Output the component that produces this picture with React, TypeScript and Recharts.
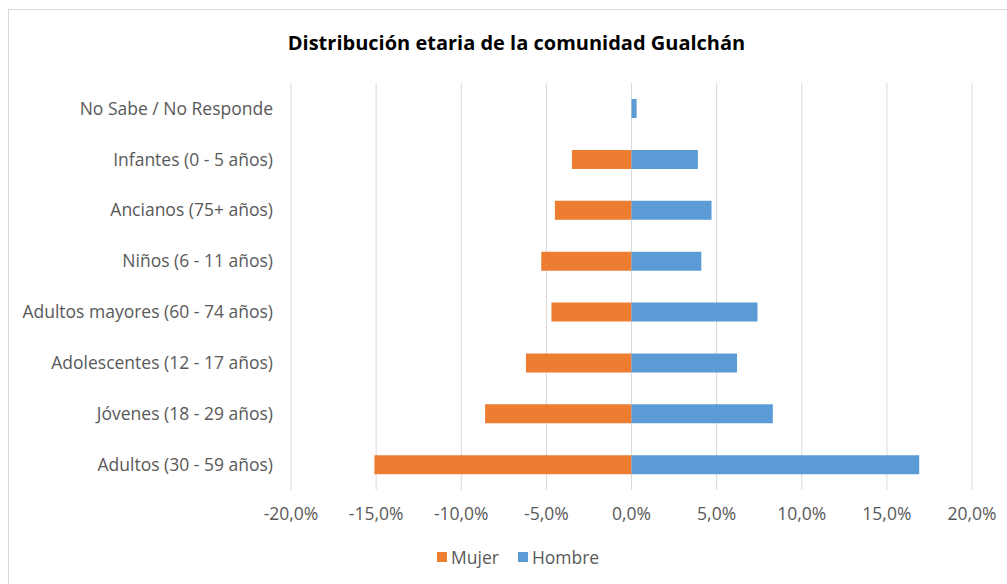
import { Bar, BarChart, CartesianGrid, Legend, XAxis, YAxis } from "recharts";

// Grupos de edad, de arriba hacia abajo
const grupos = [
  "No Sabe / No Responde",
  "Infantes (0 - 5 años)",
  "Ancianos (75+ años)",
  "Niños (6 - 11 años)",
  "Adultos mayores (60 - 74 años)",
  "Adolescentes (12 - 17 años)",
  "Jóvenes (18 - 29 años)",
  "Adultos (30 - 59 años)",
];

// Porcentaje del total por sexo
const mujer = [0, 3.5, 4.5, 5.3, 4.7, 6.2, 8.6, 15.1];
const hombre = [0.3, 3.9, 4.7, 4.1, 7.4, 6.2, 8.3, 16.9];

const ticksX = [-20, -15, -10, -5, 0, 5, 10, 15, 20];

const series = [
  { key: "mujer", name: "Mujer", color: "#ED7D31" },
  { key: "hombre", name: "Hombre", color: "#5B9BD5" },
];

// la pirámide dibuja a las mujeres hacia la izquierda
const data = grupos.map((grupo, i) => ({
  grupo,
  mujer: -mujer[i],
  hombre: hombre[i],
}));

const FONT = "'Open Sans', 'Noto Sans', sans-serif";

const pct = (v: number) => `${v.toFixed(1).replace(".", ",")}%`;

function Leyenda() {
  return (
    <div
      style={{
        display: "flex",
        gap: 19,
        fontFamily: FONT,
        fontSize: 17.5,
        lineHeight: "20px",
        color: "#595959",
      }}
    >
      {series.map((s) => (
        <div key={s.key} style={{ display: "flex", alignItems: "center", gap: 4 }}>
          <span style={{ width: 10, height: 10, background: s.color, display: "inline-block" }} />
          <span>{s.name}</span>
        </div>
      ))}
    </div>
  );
}

export default function App() {
  return (
    <div
      style={{
        position: "absolute",
        left: 0,
        top: 0,
        width: 1007,
        height: 584,
        overflow: "hidden",
        background: "#fff",
      }}
    >
      <div
        style={{
          position: "absolute",
          left: 8,
          top: 9,
          width: 1020,
          height: 600,
          border: "1px solid #d9d9d9",
        }}
      />
      <div
        style={{
          position: "absolute",
          left: 0,
          top: 29,
          width: 1033,
          textAlign: "center",
          fontFamily: FONT,
          fontWeight: 700,
          fontSize: 20,
          lineHeight: "28px",
          color: "#000",
        }}
      >
        Distribución etaria de la comunidad Gualchán
      </div>
      <BarChart
        width={1007}
        height={584}
        data={data}
        layout="vertical"
        stackOffset="sign"
        margin={{ top: 83, right: 35, bottom: 44, left: 0 }}
      >
        <CartesianGrid horizontal={false} stroke="#d9d9d9" />
        <XAxis
          type="number"
          domain={[-20, 20]}
          ticks={ticksX}
          tickFormatter={pct}
          axisLine={false}
          tickLine={false}
          tickSize={0}
          tickMargin={18}
          height={30}
          tick={{ fill: "#595959", fontSize: 17.5, fontFamily: FONT }}
        />
        <YAxis
          type="category"
          dataKey="grupo"
          width={291}
          axisLine={false}
          tickLine={false}
          tickSize={0}
          tickMargin={18}
          interval={0}
          tick={{ fill: "#595959", fontSize: 17.5, fontFamily: FONT }}
        />
        <Legend
          content={<Leyenda />}
          wrapperStyle={{ left: 437, top: 547, width: "auto" }}
        />
        {series.map((s) => (
          <Bar
            key={s.key}
            dataKey={s.key}
            name={s.name}
            stackId="edad"
            fill={s.color}
            barSize={19}
            isAnimationActive={false}
          />
        ))}
      </BarChart>
    </div>
  );
}
